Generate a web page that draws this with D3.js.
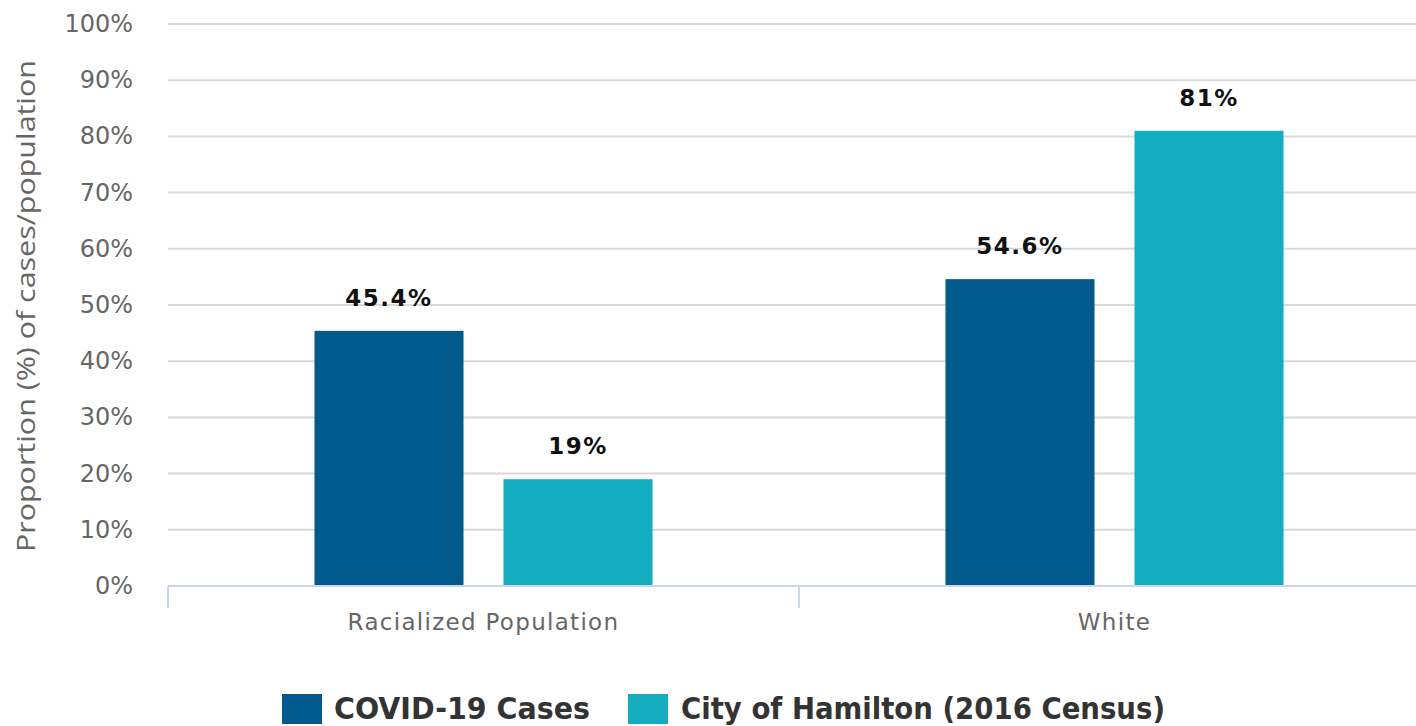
<!DOCTYPE html>
<html>
<head>
<meta charset="utf-8">
<script src="https://cdn.jsdelivr.net/npm/d3@7"></script>
<style>
  html, body { margin: 0; padding: 0; background: #fff; overflow: hidden; }
  svg { display: block; }
</style>
</head>
<body>
<svg id="chart" width="1416" height="726"></svg>
<script>
const categories = ["Racialized Population", "White"];
const seriesNames = ["COVID-19 Cases", "City of Hamilton (2016 Census)"];
const covidCases = [45.4, 54.6];
const hamiltonCensus = [19, 81];
const valueLabels = [["45.4%", "19%"], ["54.6%", "81%"]];
const yTicks = [0, 10, 20, 30, 40, 50, 60, 70, 80, 90, 100];
const colors = ["#02598b", "#14adc0"];

const svg = d3.select("#chart");
const plotLeft = 168, plotRight = 1430, plotTop = 24, plotBottom = 586;

const x = d3.scaleBand().domain(categories).range([plotLeft, plotRight]).paddingInner(0).paddingOuter(0);
const y = d3.scaleLinear().domain([0, 100]).range([plotBottom, plotTop]);
const xInner = d3.scaleBand().domain(seriesNames).range([0, x.bandwidth()]).paddingInner(0.2116).paddingOuter(0.775);

// gridlines
svg.append("g").selectAll("line").data(yTicks.filter(d => d > 0)).join("line")
  .attr("x1", plotLeft).attr("x2", 1416)
  .attr("y1", d => y(d)).attr("y2", d => y(d))
  .attr("stroke", "#d9d9d9").attr("stroke-width", 2);

// y tick labels
svg.append("g").selectAll("text").data(yTicks).join("text")
  .attr("x", 133).attr("y", d => y(d) + 8)
  .attr("text-anchor", "end")
  .attr("font-family", "DejaVu Sans").attr("font-size", 24)
  .attr("fill", "#666")
  .text(d => d + "%");

// y axis title
svg.append("text")
  .attr("transform", `translate(35,${(60 + 552) / 2}) rotate(-90)`)
  .attr("text-anchor", "middle")
  .attr("font-family", "Open Sans").attr("font-size", 26)
  .attr("textLength", 492).attr("lengthAdjust", "spacingAndGlyphs")
  .attr("fill", "#666")
  .text("Proportion (%) of cases/population");

// bars
const data = categories.map((c, i) => ({
  cat: c,
  vals: [covidCases[i], hamiltonCensus[i]],
  labels: valueLabels[i]
}));
const groups = svg.append("g").selectAll("g").data(data).join("g")
  .attr("transform", d => `translate(${x(d.cat)},0)`);
groups.selectAll("rect").data(d => d.vals.map((v, j) => ({ v, s: seriesNames[j], j }))).join("rect")
  .attr("x", d => xInner(d.s))
  .attr("width", xInner.bandwidth())
  .attr("y", d => y(d.v))
  .attr("height", d => y(0) - y(d.v))
  .attr("fill", d => colors[d.j]);
groups.selectAll("text").data(d => d.vals.map((v, j) => ({ v, s: seriesNames[j], lab: d.labels[j] }))).join("text")
  .attr("x", d => xInner(d.s) + xInner.bandwidth() / 2)
  .attr("y", d => y(d.v) - 25)
  .attr("text-anchor", "middle")
  .attr("font-family", "DejaVu Sans").attr("font-weight", "bold").attr("font-size", 23)
  .attr("letter-spacing", 1.5)
  .attr("fill", "#111")
  .text(d => d.lab);

// x axis line
svg.append("line")
  .attr("x1", plotLeft).attr("x2", 1416)
  .attr("y1", plotBottom).attr("y2", plotBottom)
  .attr("stroke", "#ccd6eb").attr("stroke-width", 2);
// x ticks at band boundaries
svg.append("g").selectAll("line").data(categories).join("line")
  .attr("x1", d => x(d)).attr("x2", d => x(d))
  .attr("y1", plotBottom).attr("y2", plotBottom + 22)
  .attr("stroke", "#ccd6eb").attr("stroke-width", 2);
// category labels
svg.append("g").selectAll("text").data(categories).join("text")
  .attr("x", d => x(d) + x.bandwidth() / 2)
  .attr("y", 630)
  .attr("text-anchor", "middle")
  .attr("font-family", "DejaVu Sans").attr("font-size", 23)
  .attr("letter-spacing", 1.3)
  .attr("fill", "#666")
  .text(d => d);

// legend
const legendItems = [
  { name: seriesNames[0], color: colors[0], sx: 282, tx: 334, tw: 256 },
  { name: seriesNames[1], color: colors[1], sx: 628, tx: 681, tw: 484 }
];
const lg = svg.append("g");
legendItems.forEach(it => {
  lg.append("rect").attr("x", it.sx).attr("y", 694).attr("width", 40).attr("height", 30).attr("fill", it.color);
  lg.append("text").attr("x", it.tx).attr("y", 719)
    .attr("font-family", "DejaVu Sans").attr("font-weight", "bold").attr("font-size", 30)
    .attr("font-stretch", "condensed")
    .attr("textLength", it.tw).attr("lengthAdjust", "spacingAndGlyphs")
    .attr("fill", "#333")
    .text(it.name);
});
</script>
</body>
</html>
